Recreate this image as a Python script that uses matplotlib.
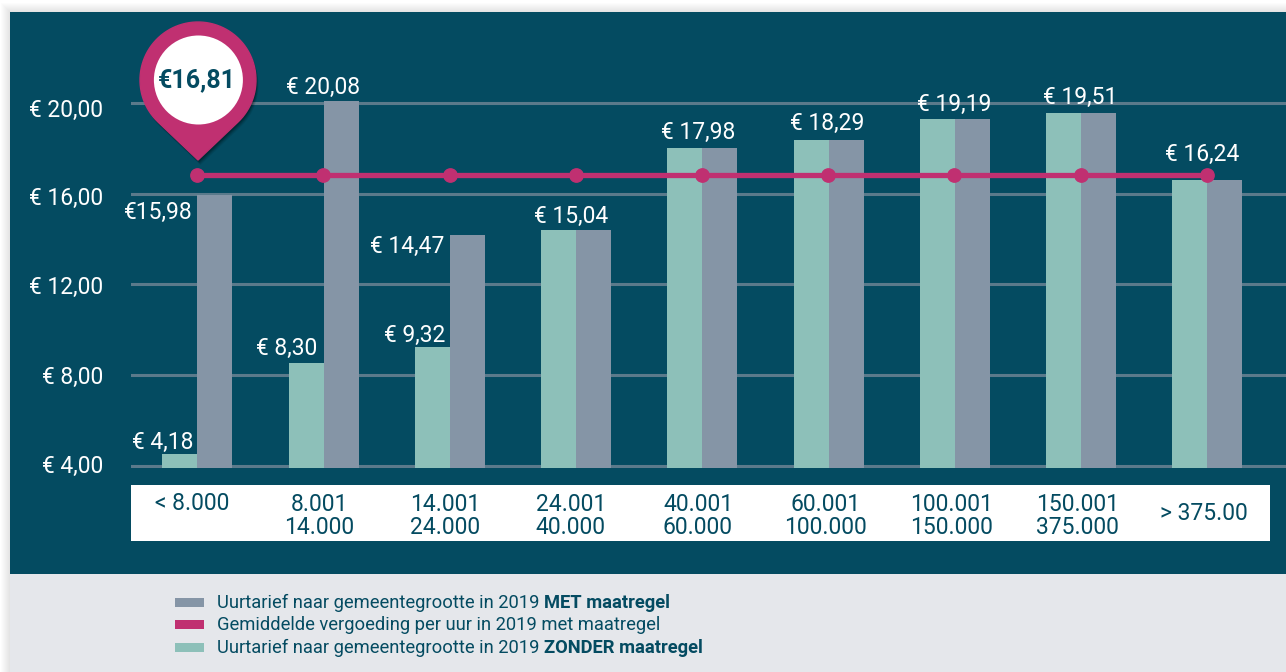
import numpy as np
import matplotlib
matplotlib.use('Agg')
import matplotlib.pyplot as plt
from matplotlib.patches import Rectangle, Circle, PathPatch
from matplotlib.path import Path
from matplotlib.transforms import Affine2D, ScaledTranslation


W, H = 1286, 672

DARK = '#044b61'
GREY = '#8595a6'
TEAL = '#8dc0b9'
PINK = '#c03071'
GRID = '#5b7a8b'
PANEL = '#e5e7eb'

categories = ['< 8.000', '8.001\n14.000', '14.001\n24.000', '24.001\n40.000', '40.001\n60.000',
              '60.001\n100.000', '100.001\n150.000', '150.001\n375.000', '> 375.00']
# bar heights as drawn in the picture (the printed labels do not always agree)
met = [15.95, 20.1, 14.2, 14.4, 18.0, 18.37, 19.3, 19.56, 16.6]
zonder = [4.53, 8.54, 9.24, 14.4, 18.0, 18.37, 19.3, 19.56, 16.6]
average = [16.82] * 9
y_ticks = [4, 8, 12, 16, 20]
y_tick_labels = ['€ 4,00', '€ 8,00', '€ 12,00', '€ 16,00', '€ 20,00']

zonder_labels = {0: '€ 4,18', 1: '€ 8,30', 2: '€ 9,32'}
met_labels = {0: '€15,98', 1: '€ 20,08', 2: '€ 14,47', 3: '€ 15,04', 4: '€ 17,98',
              5: '€ 18,29', 6: '€ 19,19', 7: '€ 19,51', 8: '€ 16,24'}
# pixel offsets of the value labels from the group centre / bar top
zonder_offsets = {0: (-34, 12), 1: (-37, 15), 2: (-35, 12)}
met_offsets = {0: (-39, -18), 1: (0, 13), 2: (-42, -12), 3: (-5, 14), 4: (-4, 16),
               5: (-1, 16), 6: (0, 14), 7: (-1, 15), 8: (-5, 26)}
# pixel offsets of the category labels from the group centre / axis bottom
cat_offsets = [(-5, -36), (-4, -48), (-4, -48), (-5, -48), (-4, -48),
               (-3, -48), (-3, -48), (-3, -48), (-3, -46)]
# the tick labels drift against the grid in the original, px below each gridline
y_label_shift = [-2.4, -0.4, 0.6, 2.6, 4.6]

legend_rows = [
    (GREY, 'Uurtarief naar gemeentegrootte in 2019 ', 'MET maatregel'),
    (PINK, 'Gemiddelde vergoeding per uur in 2019 met maatregel', ''),
    (TEAL, 'Uurtarief naar gemeentegrootte in 2019 ', 'ZONDER maatregel'),
]

plt.rcParams['font.family'] = ['Roboto', 'DejaVu Sans']

fig = plt.figure(figsize=(W / 100, H / 100), dpi=100, facecolor='white')

# background layer in pixel coordinates
bg = fig.add_axes([0, 0, 1, 1])
bg.set_xlim(0, W)
bg.set_ylim(H, 0)
bg.axis('off')

# soft page shadow around the panel
for i in range(10):
    bg.add_patch(Rectangle((10 - i, 12 - i), W, H, fc='black', ec='none', alpha=0.012))
bg.add_patch(Rectangle((10, 12), W, 562, fc=DARK, ec='none'))
bg.add_patch(Rectangle((10, 574), W, 98, fc=PANEL, ec='none'))
bg.add_patch(Rectangle((131, 485), 1139, 56, fc='white', ec='none'))

# chart axes: x unit is one group (126.25 px), 4 euro = 90.75 px
left, right, top, bottom = 131, W, 20, 468
ax = fig.add_axes([left / W, 1 - bottom / H, (right - left) / W, (bottom - top) / H])
ax.patch.set_visible(False)
ax.set_xlim((left - 197) / 126.25, (right - 197) / 126.25)
ax.set_ylim(4 - (bottom - 466) / 22.69, 4 + (466 - top) / 22.69)
for s in ax.spines.values():
    s.set_visible(False)

x = np.arange(len(categories))
w = 35 / 126.25
nudge = 0.4 / 126.25  # bars sit a hair right of the dots
ax.set_axisbelow(True)
ax.yaxis.grid(True, color=GRID, lw=2.2)
ax.xaxis.set_visible(False)
ax.set_yticks(y_ticks)
ax.set_yticklabels(y_tick_labels, color='white', fontsize=16.5)
ax.tick_params(axis='y', length=0, pad=20)
for lab, px_down in zip(ax.get_yticklabels(), y_label_shift):
    lab.set_transform(lab.get_transform() + ScaledTranslation(0, -px_down / 100, fig.dpi_scale_trans))

base = ax.get_ylim()[0]
ax.bar(x - w / 2 + nudge, np.array(zonder) - base, w, bottom=base, color=TEAL, zorder=2)
ax.bar(x + w / 2 + nudge, np.array(met) - base, w, bottom=base, color=GREY, zorder=2)
ax.plot(x, average, color=PINK, lw=3.8, marker='o', ms=9.6, zorder=3, solid_capstyle='butt')


def value_label(series, i, text, off):
    ax.annotate(text, (x[i], series[i]), xytext=off, textcoords='offset pixels',
                ha='center', va='center', color='white', fontsize=16.5, zorder=4,
                annotation_clip=False)


for i, text in zonder_labels.items():
    value_label(zonder, i, text, zonder_offsets[i])
for i, text in met_labels.items():
    value_label(met, i, text, met_offsets[i])

# category labels on the white strip
for i, cat in enumerate(categories):
    ax.annotate(cat, (x[i], base), xytext=cat_offsets[i], textcoords='offset pixels',
                ha='center', va='center', color=DARK, fontsize=16.5, linespacing=0.95,
                annotation_clip=False)

# map pin, pixel coordinates
over = fig.add_axes([0, 0, 1, 1], zorder=5)
over.set_xlim(0, W)
over.set_ylim(H, 0)
over.axis('off')
cx, cy, r, tip = 198, 80, 58, 160
a = np.arccos(r / (tip - cy))
theta = np.linspace(np.pi / 2 + a, np.pi / 2 - a + 2 * np.pi, 80)
px = cx + r * np.cos(theta)
py = cy + r * np.sin(theta)
verts = np.column_stack([np.r_[cx, px, cx], np.r_[tip, py, tip]])
pin = Path(verts, closed=True)
for off, al in [(5, 0.08), (4, 0.1), (3, 0.14), (2, 0.18)]:
    over.add_patch(PathPatch(pin.transformed(Affine2D().translate(off / 2, off)),
                             fc='black', ec='none', alpha=al))
over.add_patch(PathPatch(pin, fc=PINK, ec=PINK, lw=1, joinstyle='round'))
over.add_patch(Circle((cx + 0.4, cy), 44.5, fc='white', ec='none'))
over.text(cx - 1, cy + 0.5, '€16,81', ha='center', va='center', color=DARK, fontsize=18, fontweight='bold')

# legend
renderer = fig.canvas.get_renderer()
inv = over.transData.inverted()
for (color, plain, strong), ly in zip(legend_rows, [602, 624.5, 647]):
    over.add_patch(Rectangle((175, ly - 4.5), 29, 9, fc=color, ec='none'))
    t = over.text(217, ly + 1, plain, ha='left', va='center', color=DARK, fontsize=13.2)
    if strong:
        end = inv.transform(t.get_window_extent(renderer).get_points())[1, 0]
        over.text(end, ly + 1, strong, ha='left', va='center', color=DARK, fontsize=13.2, fontweight='bold')

fig.savefig('out.png', dpi=100, facecolor=fig.get_facecolor())
